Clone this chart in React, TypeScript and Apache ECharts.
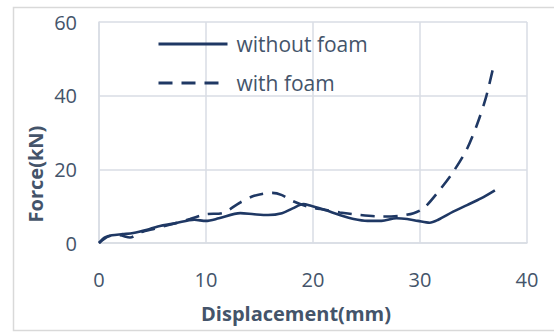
import React, { useEffect, useRef } from "react";
import * as echarts from "echarts";

const withoutFoamX = [0, 0.56, 1.2, 2.2, 3.2, 4.5, 5.5, 7.2, 8.9, 10, 11.2, 13.2, 14.5, 15.8, 17.1, 18.1, 19.1, 19.8, 21.1, 22.5, 23.8, 25.1, 26.4, 27.8, 28.8, 29.8, 30.9, 31.7, 33.1, 34.4, 35.7, 37.0];
const withoutFoamY = [0, 1.5, 2.1, 2.4, 2.7, 3.6, 4.5, 5.4, 6.3, 6.0, 6.7, 8.1, 7.8, 7.6, 8.1, 9.4, 10.6, 10.1, 9.0, 7.6, 6.5, 6.0, 6.0, 6.7, 6.5, 6.0, 5.5, 6.3, 8.5, 10.3, 12.1, 14.3];

const withFoamX = [0, 0.9, 1.9, 2.9, 3.9, 5.2, 6.5, 8.5, 10, 11.5, 13.2, 14.5, 16.2, 17.1, 18.1, 19.5, 21.1, 22.5, 24.4, 26.4, 28.1, 29.4, 30.4, 31.7, 33.1, 34.4, 35.4, 36.2, 36.8];
const withFoamY = [0, 1.8, 2.1, 1.5, 2.9, 3.9, 4.9, 6.5, 7.8, 8.1, 11.0, 12.8, 13.6, 13.0, 11.4, 9.9, 9.0, 8.3, 7.6, 7.2, 7.4, 8.1, 9.6, 13.9, 19.3, 25.6, 32.7, 39.9, 47.1];

const seriesNames = ["without foam", "with foam"];
const xTicks = { min: 0, max: 40, interval: 10 };
const yTicks = { min: 0, max: 60, interval: 20 };

const LINE = "#1f3864";
const TEXT = "#44546a";
const GRID = "#d9dde4";
const FONT = "'Open Sans', 'Noto Sans', sans-serif";

export default function App() {
  const ref = useRef<HTMLDivElement>(null);
  useEffect(() => {
    if (!ref.current) return;
    const chart = echarts.init(ref.current, null, { renderer: "svg" });
    const zip = (xs: number[], ys: number[]) => xs.map((x, i) => [x, ys[i]]);
    chart.setOption({
      animation: false,
      backgroundColor: "#ffffff",
      grid: { left: 99, right: 27, top: 22, bottom: 89 },
      legend: {
        show: true,
        orient: "vertical",
        left: 152,
        top: 28,
        itemWidth: 69,
        itemHeight: 22,
        itemGap: 17,
        itemStyle: { opacity: 0 },
        lineStyle: { width: 3 },
        textStyle: { color: TEXT, fontSize: 21, fontFamily: FONT, padding: [0, 0, 0, 4], lineHeight: 22 },
        data: seriesNames,
      },
      xAxis: {
        type: "value",
        min: xTicks.min,
        max: xTicks.max,
        interval: xTicks.interval,
        axisLine: { show: true, lineStyle: { color: GRID, width: 1.5 } },
        axisTick: { show: false },
        splitLine: { show: true, lineStyle: { color: GRID, width: 1.5 } },
        axisLabel: { color: TEXT, fontSize: 20, fontFamily: FONT, margin: 26 },
      },
      yAxis: {
        type: "value",
        min: yTicks.min,
        max: yTicks.max,
        interval: yTicks.interval,
        axisLine: { show: true, lineStyle: { color: GRID, width: 1.5 } },
        axisTick: { show: false },
        splitLine: { show: true, lineStyle: { color: GRID, width: 1.5 } },
        axisLabel: { color: TEXT, fontSize: 20, fontFamily: FONT, margin: 22 },
      },
      series: [
        {
          name: seriesNames[0],
          type: "line",
          data: zip(withoutFoamX, withoutFoamY),
          symbol: "none",
          smooth: 0.3,
          lineStyle: { color: LINE, width: 2.6, type: "solid" },
          itemStyle: { color: LINE },
        },
        {
          name: seriesNames[1],
          type: "line",
          data: zip(withFoamX, withFoamY),
          symbol: "none",
          smooth: 0.3,
          lineStyle: { color: LINE, width: 2.6, type: [14, 9] },
          itemStyle: { color: LINE },
        },
      ],
      graphic: [
        {
          type: "rect",
          shape: { x: 13.5, y: 7.5, width: 545, height: 323 },
          style: { fill: "none", stroke: "#d9d9d9", lineWidth: 1.5 },
          silent: true,
        },
        {
          type: "text",
          x: 296,
          y: 313,
          style: { text: "Displacement(mm)", fill: TEXT, font: `bold 20px ${FONT}`, align: "center", verticalAlign: "middle" },
        },
        {
          type: "text",
          x: 35,
          y: 174,
          rotation: Math.PI / 2,
          style: { text: "Force(kN)", fill: TEXT, font: `bold 20px ${FONT}`, align: "center", verticalAlign: "middle" },
        },
      ],
    });
    return () => chart.dispose();
  }, []);
  return <div ref={ref} style={{ position: "fixed", left: 0, top: 0, width: 554, height: 332 }} />;
}
